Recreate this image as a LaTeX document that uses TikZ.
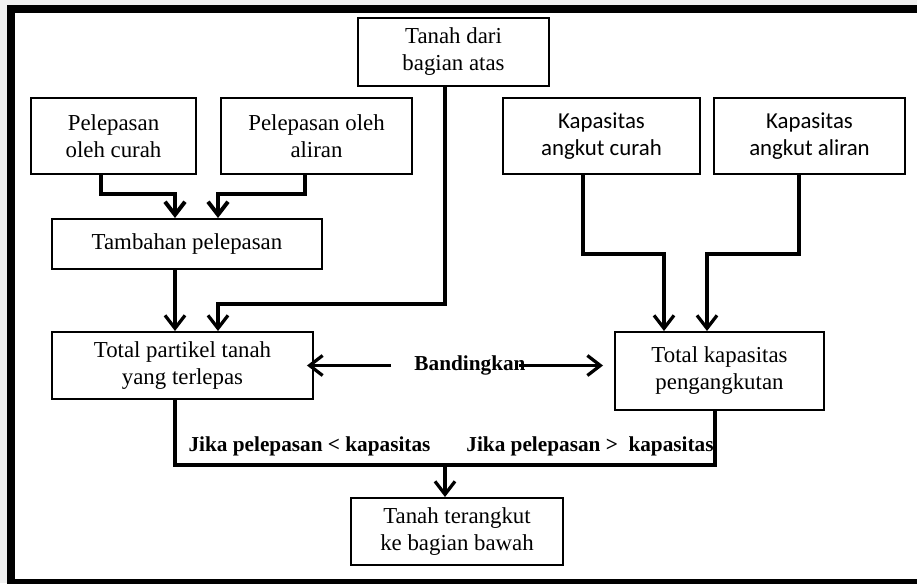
\documentclass[tikz,border=0pt]{standalone}
\usepackage{fontspec}
\setmainfont{Liberation Serif}
\newfontfamily\kapfont{Carlito}
\usetikzlibrary{arrows.meta}
\definecolor{latar}{RGB}{240,240,240}

\begin{document}
\begin{tikzpicture}[x=0.02cm,y=-0.02cm,
  kotak/.style={draw,line width=0.04cm,align=center,inner sep=0pt,font=\fontsize{13}{15.4}\selectfont},
  label/.style={inner sep=0pt,anchor=base,font=\bfseries\fontsize{12.1}{14}\selectfont},
  panah/.style={line width=0.065cm,-{Straight Barb[length=0.26cm,width=0.4cm]}},
  garis/.style={line width=0.075cm}]
\clip (0,0) rectangle (917,583);
\useasboundingbox (0,0) rectangle (917,583);
\fill [latar] (0,0) rectangle (917,583);
\fill [white] (11,9) rectangle (940,583);
\draw [line width=0.16cm] (940,9) -- (11,9) -- (11,583) -- (940,583);
\node [kotak,minimum width=3.82cm,minimum height=1.36cm] (atas) at (453.5,52) {Tanah dari\\bagian atas};
\node [kotak,minimum width=3.30cm,minimum height=1.52cm] (curah) at (113.5,136) {Pelepasan\\oleh curah};
\node [kotak,minimum width=3.82cm,minimum height=1.52cm] (aliran) at (316.5,136) {Pelepasan oleh\\aliran};
\node [kotak,minimum width=5.40cm,minimum height=1.00cm] (tambah) at (187,244) {Tambahan pelepasan};
\node [kotak,font=\kapfont\fontsize{13}{15.6}\selectfont,minimum width=3.94cm,minimum height=1.52cm] (kcurah) at (601.5,136) {Kapasitas\\angkut curah};
\node [kotak,font=\kapfont\fontsize{13}{15.6}\selectfont,minimum width=3.82cm,minimum height=1.52cm] (kaliran) at (809.5,136) {Kapasitas\\angkut aliran};
\node [kotak,minimum width=5.22cm,minimum height=1.34cm] (partikel) at (182.5,365.5) {Total partikel tanah\\yang terlepas};
\node [kotak,minimum width=4.18cm,minimum height=1.56cm] (kap) at (719.5,371) {Total kapasitas\\pengangkutan};
\node [kotak,minimum width=4.24cm,minimum height=1.34cm] (angkut) at (457,531.5) {Tanah terangkut\\ke bagian bawah};
\node [label] (banding) at (470,370) {Bandingkan};
\node [label] (kurang) at (309.5,451) {Jika pelepasan < kapasitas};
\node [label] (lebih) at (590,451) {Jika pelepasan >~ kapasitas};
\draw [panah,line width=0.08cm] ([xshift=-0.25cm]curah.south) -- ++(0,19) -| ([xshift=-0.24cm]tambah.north);
\draw [panah,line width=0.08cm] ([xshift=-0.23cm]aliran.south) -- ++(0,19) -| ([xshift=0.62cm]tambah.north);
\draw [panah] ([xshift=-0.24cm]tambah.south) -- ([xshift=-0.24cm]tambah.south |- partikel.north);
\draw [panah] ([xshift=-0.17cm]atas.south) -- ++(0,217) -| ([xshift=0.71cm]partikel.north);
\draw [panah] ([xshift=-0.37cm]kcurah.south) -- ++(0,79) -| ([xshift=-1.11cm]kap.north);
\draw [panah] ([xshift=-0.21cm]kaliran.south) -- ++(0,79) -| ([xshift=-0.25cm]kap.north);
\draw [panah,shorten >=-0.14cm] ([xshift=-0.46cm]banding.west |- partikel.east) -- (partikel.east);
\draw [panah] ([xshift=-0.14cm]banding.east |- partikel.east) -- ([xshift=-0.22cm]kap.west |- partikel.east);
\draw [garis] ([xshift=-0.15cm]partikel.south) -- ++(0,65) coordinate (bawah) -| ([xshift=-0.09cm]kap.south);
\draw [panah] ([xshift=-0.24cm]angkut.north |- bawah) -- ([xshift=-0.24cm]angkut.north);
\end{tikzpicture}
\end{document}
